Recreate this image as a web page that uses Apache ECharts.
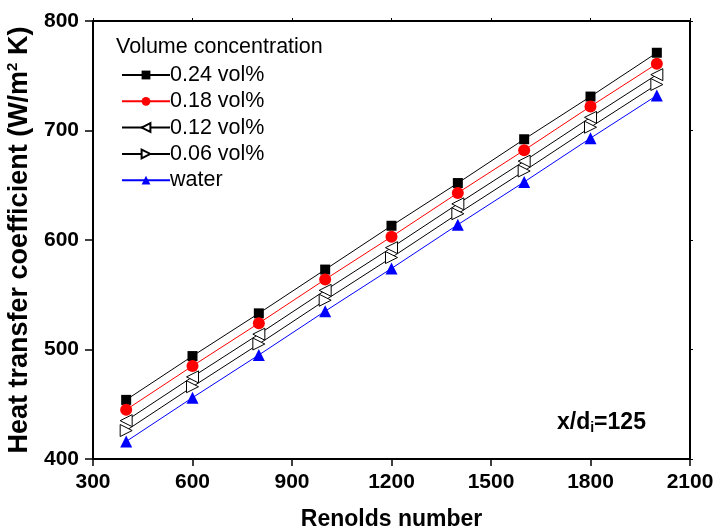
<!DOCTYPE html>
<html><head><meta charset="utf-8">
<script src="https://cdn.jsdelivr.net/npm/echarts@6/dist/echarts.min.js"></script>
<style>html,body{margin:0;padding:0;background:#fff}#c{width:719px;height:531px}</style>
</head><body><div id="c"></div>
<script>
const reynolds = [400, 600, 800, 1000, 1200, 1400, 1600, 1800, 2000];
const vol024 = [454, 494, 533, 573, 613, 652, 692, 731, 771];
const vol018 = [445, 485, 524, 564, 603, 643, 682, 722, 761];
const vol012 = [435, 475, 514, 554, 593, 633, 672, 712, 751];
const vol006 = [426, 466, 505, 545, 584, 624, 663, 703, 742];
const water  = [416, 456, 495, 535, 574, 614, 653, 693, 732];
const seriesNames = ['0.24 vol%', '0.18 vol%', '0.12 vol%', '0.06 vol%', 'water'];

const F = '"Liberation Sans", Arial, sans-serif';
const chart = echarts.init(document.getElementById('c'));
const pair = arr => reynolds.map((x, i) => [x, arr[i]]);
function mk(name, data, color, symbol, size, rot, fill) {
  return {
    name, type: 'line', data: pair(data), symbol, symbolSize: size, symbolRotate: rot,
    lineStyle: { color, width: 1 },
    itemStyle: { color: fill, borderColor: fill === '#fff' ? '#000' : fill, borderWidth: fill === '#fff' ? 1 : 0 },
    emphasis: { disabled: true }, z: 3
  };
}
const axisCommon = {
  axisLine: { show: true, lineStyle: { color: '#000', width: 2 } },
  splitLine: { show: false }
};
chart.setOption({
  animation: false,
  backgroundColor: '#fff',
  grid: { left: 93, right: 29, top: 21, bottom: 72, containLabel: false, outerBoundsMode: 'none' },
  xAxis: [{
    type: 'value', min: 300, max: 2100, interval: 300, position: 'bottom',
    ...axisCommon,
    axisTick: { inside: false, length: 7, lineStyle: { color: '#000', width: 1.5 } },
    axisLabel: { color: '#000', fontFamily: F, fontWeight: 'bold', fontSize: 21, margin: 13, formatter: v => String(v) },
    name: 'Renolds number', nameLocation: 'middle', nameGap: 49,
    nameTextStyle: { color: '#000', fontFamily: F, fontWeight: 'bold', fontSize: 23 }
  }, {
    type: 'value', min: 300, max: 2100, interval: 300, position: 'top',
    ...axisCommon,
    axisTick: { inside: false, length: 3, lineStyle: { color: '#000', width: 1 } },
    axisLabel: { show: false }
  }],
  yAxis: [{
    type: 'value', min: 400, max: 800, interval: 100, position: 'left',
    ...axisCommon,
    axisTick: { inside: false, length: 8, lineStyle: { color: '#000', width: 1.5 } },
    axisLabel: { color: '#000', fontFamily: F, fontWeight: 'bold', fontSize: 21, margin: 14, formatter: v => String(v) },
    name: '{b|Heat transfer coefficient (W/m}{s|2}{b| K)}', nameLocation: 'middle', nameGap: 53,
    nameTextStyle: {
      color: '#000', fontFamily: F, fontWeight: 'bold', fontSize: 27,
      rich: {
        b: { color: '#000', fontFamily: F, fontWeight: 'bold', fontSize: 27 },
        s: { color: '#000', fontFamily: F, fontWeight: 'bold', fontSize: 15, padding: [0, 0, 13, 0] }
      }
    }
  }, {
    type: 'value', min: 400, max: 800, interval: 100, position: 'right',
    ...axisCommon,
    axisTick: { inside: false, length: 3, lineStyle: { color: '#000', width: 1 } },
    axisLabel: { show: false }
  }],
  legend: {
    orient: 'vertical', left: 116, top: 59, itemWidth: 48, itemHeight: 11, itemGap: 4.3,
    data: seriesNames,
    textStyle: { color: '#000', fontFamily: F, fontSize: 21.5, padding: [0, 0, 0, -5] }
  },
  graphic: [{
    type: 'text', left: 116, top: 36,
    style: { text: 'Volume concentration', fill: '#000', font: '21.5px ' + F }
  }, {
    type: 'text', left: 557, top: 411,
    style: {
      text: '{a|x/d}{s|i}{a|=125}',
      rich: {
        a: { fill: '#000', fontFamily: F, fontWeight: 'bold', fontSize: 23 },
        s: { fill: '#000', fontFamily: F, fontWeight: 'bold', fontSize: 14, padding: [12, 0, 0, 0] }
      }
    }
  }],
  series: [
    mk(seriesNames[0], vol024, '#000', 'rect', 10, 0, '#000'),
    mk(seriesNames[1], vol018, '#ff0000', 'circle', 12, 0, '#ff0000'),
    mk(seriesNames[2], vol012, '#000', 'triangle', 12, 90, '#fff'),
    mk(seriesNames[3], vol006, '#000', 'triangle', 12, -90, '#fff'),
    mk(seriesNames[4], water, '#0000ff', 'triangle', 12, 0, '#0000ff')
  ]
});
</script></body></html>
